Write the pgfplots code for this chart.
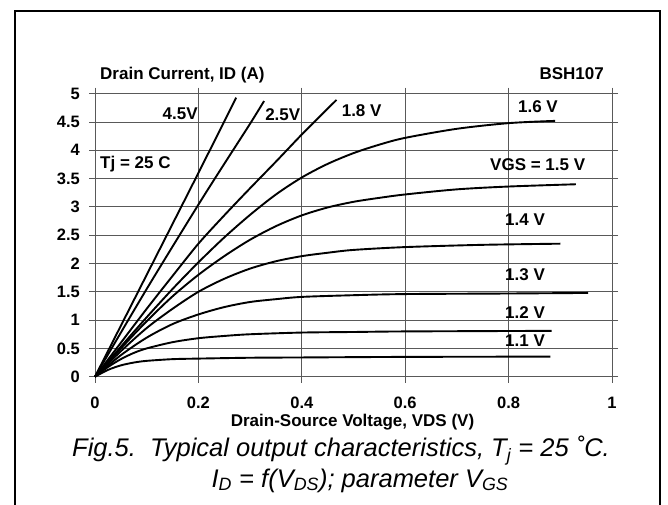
\documentclass[border=0pt]{standalone}
\usepackage{fontspec}
\setmainfont{Liberation Sans}
\usepackage{pgfplots}
\pgfplotsset{compat=1.18}
\newcommand\lbl{\fontsize{17}{20}\selectfont\bfseries}
\newcommand\tck{\fontsize{16.5}{19}\selectfont\bfseries}
\newcommand\captf{\fontsize{25.5}{29}\selectfont\itshape}
\begin{document}
\begin{tikzpicture}
\useasboundingbox (0pt,0pt) rectangle (668pt,504pt);
\draw[line width=2.4pt] (15pt,-5pt) -- (15pt,493pt) -- (660pt,493pt) -- (660pt,-5pt);
\begin{axis}[
  at={(95pt,127.3pt)}, anchor=south west,
  scale only axis, width=517pt, height=283pt,
  xmin=0, xmax=1, ymin=0, ymax=5,
  xtick={0,0.2,0.4,0.6,0.8,1},
  ytick={0,0.5,1,1.5,2,2.5,3,3.5,4,4.5,5},
  grid=major,
  grid style={black!65, line width=0.9pt},
  axis line style={black!65, line width=0.9pt},
  tick style={black!65, line width=0.9pt},
  tick align=outside, major tick length=6pt,
  /pgf/number format/assume math mode=true,
  xticklabel style={font=\tck, inner sep=0pt, anchor=base, yshift=-26pt},
  yticklabel style={font=\tck, inner sep=0pt, anchor=east, xshift=-9pt},
  cycle list={{black}},
  every axis plot/.append style={line width=1.9pt, smooth},
  no marks,
  clip=false,
]
% 1.1 V
\addplot coordinates {(0,0)(0.025,0.12)(0.05,0.2)(0.075,0.25)(0.1,0.28)(0.15,0.31)(0.2,0.32)(0.3,0.335)(0.4,0.34)(0.6,0.35)(0.881,0.355)};
% 1.2 V
\addplot coordinates {(0,0)(0.025,0.17)(0.05,0.31)(0.075,0.42)(0.1,0.5)(0.15,0.61)(0.2,0.68)(0.25,0.72)(0.3,0.75)(0.4,0.78)(0.5,0.79)(0.6,0.8)(0.883,0.81)};
% 1.3 V
\addplot coordinates {(0,0)(0.05,0.38)(0.1,0.69)(0.15,0.93)(0.2,1.1)(0.25,1.23)(0.3,1.32)(0.35,1.37)(0.4,1.41)(0.5,1.44)(0.6,1.46)(0.8,1.47)(0.954,1.48)};
% 1.4 V
\addplot coordinates {(0,0)(0.05,0.45)(0.1,0.86)(0.15,1.2)(0.2,1.5)(0.25,1.73)(0.3,1.91)(0.35,2.04)(0.4,2.13)(0.45,2.19)(0.5,2.24)(0.6,2.29)(0.75,2.33)(0.9,2.35)};
% 1.5 V
\addplot coordinates {(0,0)(0.05,0.5)(0.1,0.98)(0.15,1.42)(0.2,1.8)(0.25,2.13)(0.3,2.42)(0.35,2.66)(0.4,2.85)(0.45,2.99)(0.5,3.09)(0.55,3.16)(0.6,3.22)(0.7,3.31)(0.8,3.36)(0.93,3.40)};
% 1.6 V
\addplot coordinates {(0,0)(0.05,0.53)(0.1,1.05)(0.15,1.55)(0.2,2.02)(0.25,2.46)(0.3,2.86)(0.35,3.22)(0.4,3.52)(0.45,3.76)(0.5,3.95)(0.55,4.1)(0.6,4.22)(0.7,4.38)(0.8,4.48)(0.89,4.52)};
% 1.8 V
\addplot coordinates {(0,0)(0.05,0.6)(0.1,1.2)(0.15,1.78)(0.2,2.35)(0.25,2.85)(0.3,3.33)(0.35,3.8)(0.4,4.28)(0.435,4.6)(0.467,4.89)};
% 2.5 V
\addplot coordinates {(0,0)(0.1,1.55)(0.2,3.04)(0.25,3.76)(0.3,4.47)(0.327,4.87)};
% 4.5 V
\addplot coordinates {(0,0)(0.1,1.8)(0.2,3.6)(0.273,4.93)};
\begin{scope}[every node/.style={inner sep=0pt, font=\lbl}]
\node[anchor=base east] at (axis cs:0.199,4.553) {4.5V};
\node[anchor=base west] at (axis cs:0.329,4.526) {2.5V};
\node[anchor=base west] at (axis cs:0.477,4.606) {1.8 V};
\node[anchor=base west] at (axis cs:0.818,4.66) {1.6 V};
\node[anchor=base west] at (axis cs:0.0097,3.67) {Tj = 25 C};
\node[anchor=base west] at (axis cs:0.764,3.652) {VGS = 1.5 V};
\node[anchor=base west] at (axis cs:0.793,2.68) {1.4 V};
\node[anchor=base west] at (axis cs:0.793,1.70) {1.3 V};
\node[anchor=base west] at (axis cs:0.793,1.02) {1.2 V};
\node[anchor=base west] at (axis cs:0.793,0.53) {1.1 V};
\end{scope}
\end{axis}
\node[anchor=base west, inner sep=0pt, font=\lbl] at (100pt,424pt) {Drain Current, ID (A)};
\node[anchor=base east, inner sep=0pt, font=\lbl] at (604pt,424pt) {BSH107};
\node[anchor=base, inner sep=0pt, font=\lbl] at (352.5pt,78pt) {Drain-Source Voltage, VDS (V)};
\node[anchor=base, inner sep=0pt, font=\captf] at (341pt,47.3pt) {Fig.5.\ \ Typical output characteristics, T\textsubscript{j} = 25 ˚C.};
\node[anchor=base, inner sep=0pt, font=\captf] at (360pt,17pt) {I\textsubscript{D} = f(V\textsubscript{DS}); parameter V\textsubscript{GS}};
\end{tikzpicture}
\end{document}
